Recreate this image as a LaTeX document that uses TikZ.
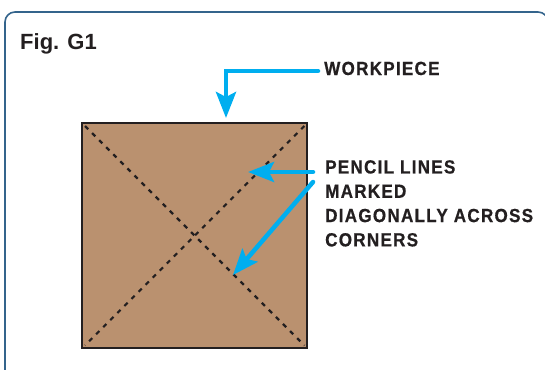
\documentclass[tikz,border=0pt]{standalone}
\usepackage{fontspec}
\setmainfont{Liberation Sans}
\newfontfamily\calloutfont[FakeStretch=0.9,LetterSpace=6.5,FakeBold=0.6]{Liberation Sans}
\usepackage{tikz}
\usetikzlibrary{arrows.meta, calc}
\definecolor{framecol}{RGB}{52,100,140}
\definecolor{woodcol}{RGB}{186,145,111}
\definecolor{inkcol}{RGB}{35,31,32}
\definecolor{callcol}{RGB}{0,174,239}

\begin{document}
\begin{tikzpicture}[
    x=1pt, y=-1pt,
    frame/.style={draw=framecol, line width=1.6pt, rounded corners=10pt},
    title/.style={font=\bfseries\fontsize{22}{26}\selectfont, text=inkcol, inner sep=0pt},
    callout/.style={font=\calloutfont\bfseries\fontsize{19}{24.3}\selectfont, text=inkcol, inner sep=0pt, align=left},
    board/.style={draw=inkcol, fill=woodcol, line width=2.4pt, minimum size=225pt, inner sep=0pt},
    pencil/.style={draw=inkcol, line width=2.2pt, dash pattern=on 4.5pt off 5.5pt},
    arrow/.style={draw=callcol, line width=4.5pt, line cap=round, -{Stealth[length=26pt, width=20pt, inset=5pt]}}
]
\useasboundingbox (0,0) rectangle (545,369);
\clip (0,0) rectangle (545,369);

\draw[frame] (5,12) rectangle (548,390);

\node[title, anchor=base west] (fig) at (20,49) {Fig. G1};

\node[board, anchor=north west] (workpiece) at (81,122) {};
\draw[pencil] ([shift={(4,4)}]workpiece.north west) -- ([shift={(-4,-4)}]workpiece.south east);
\draw[pencil] ([shift={(-4,4)}]workpiece.north east) -- ([shift={(4,-4)}]workpiece.south west);

\node[callout, anchor=base west] (wplabel) at (324,75) {WORKPIECE};
\node[callout, anchor=north west] (pencillabel) at (325,160) {PENCIL LINES\\MARKED\\DIAGONALLY ACROSS\\CORNERS};

\coordinate (wptip) at (226,118);
\coordinate (tipa) at (248,172);
\coordinate (tipb) at (233,275);

\draw[arrow] ($(wplabel.base west)+(-6,-4)$) -| (wptip);
\draw[arrow] ($(pencillabel.north west)+(-12,12)$) -- (tipa);
\draw[arrow] ($(pencillabel.north west)+(-12,22)$) -- (tipb);

\end{tikzpicture}
\end{document}
